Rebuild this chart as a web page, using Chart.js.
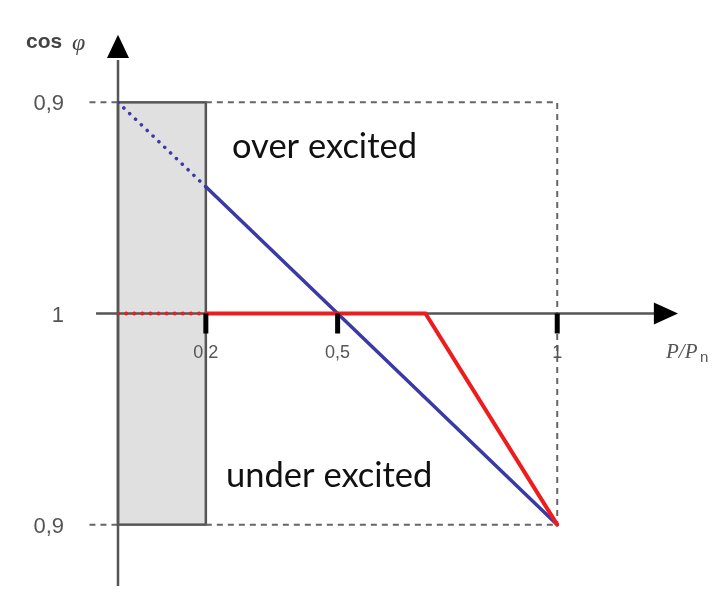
<!DOCTYPE html>
<html>
<head>
<meta charset="utf-8">
<script src="https://cdn.jsdelivr.net/npm/chart.js@4"></script>
<style>
  html, body { margin: 0; padding: 0; background: #fff; }
  #wrap { width: 727px; height: 597px; }
</style>
</head>
<body>
<div id="wrap"><canvas id="chart" width="727" height="597"></canvas></div>
<script>
// P/Pn on x, cos phi on y (+1 = 0,9 over excited, 0 = 1, -1 = 0,9 under excited)
var blue_x = [0, 0.2, 1]
var blue_y = [1, 0.6, -1]
var red_x = [0, 0.2, 0.7, 1]
var red_y = [0, 0, 0, -1]
var x_ticks = [0.2, 0.5, 1]
var x_tick_labels = ['0,2', '0,5', '1']
var y_ticks = [1, 0, -1]
var y_tick_labels = ['0,9', '1', '0,9']
var band_x = [0, 0.2]

function pts(xs, ys) {
  return xs.map((x, i) => ({x: x, y: ys[i]}))
}

function dottedFirst(ctx) {
  return ctx.p0DataIndex === 0 ? [0.1, 8] : undefined
}

var backdrop = {
  id: 'backdrop',
  beforeDatasetsDraw(chart) {
    const c = chart.ctx, xs = chart.scales.x, ys = chart.scales.y
    const X = v => xs.getPixelForValue(v), Y = v => ys.getPixelForValue(v)
    c.save()
    // shaded band
    c.fillStyle = '#e0e0e0'
    c.fillRect(X(band_x[0]), Y(1), X(band_x[1]) - X(band_x[0]), Y(-1) - Y(1))
    c.strokeStyle = '#555'
    c.lineWidth = 2.5
    c.strokeRect(X(band_x[0]), Y(1), X(band_x[1]) - X(band_x[0]), Y(-1) - Y(1))
    // dashed guides
    c.setLineDash([6, 5])
    c.lineWidth = 2
    c.strokeStyle = '#666'
    c.beginPath()
    c.moveTo(X(-0.065), Y(1)); c.lineTo(X(0), Y(1))
    c.moveTo(X(0.2), Y(1)); c.lineTo(X(1), Y(1)); c.lineTo(X(1), Y(-1))
    c.moveTo(X(-0.065), Y(-1)); c.lineTo(X(0), Y(-1))
    c.moveTo(X(0.2), Y(-1)); c.lineTo(X(1), Y(-1))
    c.stroke()
    c.setLineDash([])
    // axes
    c.strokeStyle = '#555'
    c.lineWidth = 2.5
    c.beginPath()
    c.moveTo(X(-0.05), Y(0)); c.lineTo(X(1.225), Y(0))
    c.moveTo(X(0), Y(-1.29)); c.lineTo(X(0), Y(1.2))
    c.stroke()
    // arrows
    c.fillStyle = '#000'
    c.beginPath()
    c.moveTo(X(1.22), Y(0) - 11); c.lineTo(X(1.275), Y(0)); c.lineTo(X(1.22), Y(0) + 11)
    c.closePath(); c.fill()
    c.beginPath()
    c.moveTo(X(0) - 11, Y(1.21)); c.lineTo(X(0), Y(1.32)); c.lineTo(X(0) + 11, Y(1.21))
    c.closePath(); c.fill()
    c.restore()
  },
  afterDatasetsDraw(chart) {
    const c = chart.ctx, xs = chart.scales.x, ys = chart.scales.y
    const X = v => xs.getPixelForValue(v), Y = v => ys.getPixelForValue(v)
    c.save()
    // x tick marks
    c.strokeStyle = '#000'
    c.lineWidth = 5
    x_ticks.forEach(t => {
      c.beginPath(); c.moveTo(X(t), Y(0)); c.lineTo(X(t), Y(0) + 20); c.stroke()
    })
    c.fillStyle = '#555'
    c.font = '18px "Liberation Sans", Arial, sans-serif'
    c.textAlign = 'center'
    c.textBaseline = 'middle'
    x_ticks.forEach((t, i) => c.fillText(x_tick_labels[i], X(t), Y(0) + 40))
    // y tick labels
    c.font = '22px "Liberation Sans", Arial, sans-serif'
    c.textAlign = 'right'
    y_ticks.forEach((t, i) => c.fillText(y_tick_labels[i], 64, Y(t) + 2))
    // axis titles
    c.textAlign = 'left'
    c.fillStyle = '#444'
    c.font = 'bold 21px "Liberation Sans", Arial, sans-serif'
    c.fillText('cos', 26, 42)
    c.font = 'italic 24px "Liberation Serif", serif'
    c.fillText('φ', 72, 44)
    c.fillStyle = '#555'
    c.font = 'italic 21px "Liberation Serif", serif'
    c.fillText('P/P', 666, 352)
    c.font = '15px "Liberation Sans", Arial, sans-serif'
    c.fillText('n', 700, 358)
    // region labels
    c.fillStyle = '#111'
    c.font = '34.5px Lato, sans-serif'
    c.textBaseline = 'alphabetic'
    c.fillText('over excited', 232, 158)
    c.fillText('under excited', 226, 487)
    c.restore()
  }
}

new Chart(document.getElementById('chart').getContext('2d'), {
  type: 'line',
  data: {
    datasets: [
      {
        label: 'red',
        data: pts(red_x, red_y),
        borderColor: '#ee1c1c',
        borderWidth: 4,
        borderCapStyle: 'round',
        pointRadius: 0,
        segment: { borderDash: dottedFirst }
      },
      {
        label: 'blue',
        data: pts(blue_x, blue_y),
        borderColor: '#3a3aa6',
        borderWidth: 3.5,
        borderCapStyle: 'round',
        pointRadius: 0,
        segment: { borderDash: dottedFirst }
      }
    ]
  },
  options: {
    responsive: false,
    animation: false,
    layout: { padding: { left: 118, right: 38, top: 39, bottom: 9 } },
    scales: {
      x: { type: 'linear', min: 0, max: 1.3, display: false },
      y: { type: 'linear', min: -1.3, max: 1.3, display: false }
    },
    plugins: { legend: { display: false }, tooltip: { enabled: false } }
  },
  plugins: [backdrop]
});
</script>
</body>
</html>
